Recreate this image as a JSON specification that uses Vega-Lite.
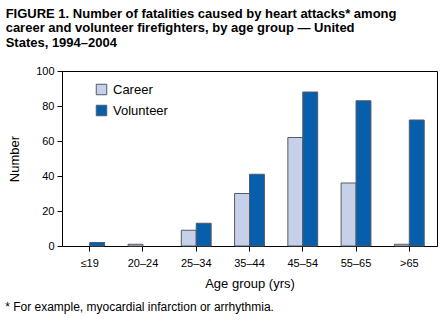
{
  "$schema": "https://vega.github.io/schema/vega-lite/v6.json",
  "padding": {"left": 5, "top": 7, "right": 8, "bottom": 5},
  "background": "white",
  "title": {
    "text": "* For example, myocardial infarction or arrhythmia.",
    "orient": "bottom",
    "anchor": "start",
    "font": "Liberation Sans",
    "fontSize": 12,
    "fontWeight": "normal",
    "color": "black",
    "offset": 11
  },
  "config": {
    "font": "Liberation Sans",
    "view": {"stroke": "black", "strokeWidth": 1},
    "concat": {"spacing": 0}
  },
  "vconcat": [
    {
      "width": 375,
      "height": 175,
      "title": {
        "text": [
          "FIGURE 1. Number of fatalities caused by heart attacks* among",
          "career and volunteer firefighters, by age group — United",
          "States, 1994–2004"
        ],
        "anchor": "start",
        "font": "Liberation Sans",
        "fontSize": 13,
        "fontWeight": "bold",
        "color": "black",
        "lineHeight": 14.7,
        "offset": 15,
        "dx": -3
      },
      "data": {
        "values": [
          {"age": "≤19", "type": "Career", "n": 0},
          {"age": "≤19", "type": "Volunteer", "n": 2},
          {"age": "20–24", "type": "Career", "n": 1},
          {"age": "20–24", "type": "Volunteer", "n": 0},
          {"age": "25–34", "type": "Career", "n": 9},
          {"age": "25–34", "type": "Volunteer", "n": 13},
          {"age": "35–44", "type": "Career", "n": 30},
          {"age": "35–44", "type": "Volunteer", "n": 41},
          {"age": "45–54", "type": "Career", "n": 62},
          {"age": "45–54", "type": "Volunteer", "n": 88},
          {"age": "55–65", "type": "Career", "n": 36},
          {"age": "55–65", "type": "Volunteer", "n": 83},
          {"age": ">65", "type": "Career", "n": 1},
          {"age": ">65", "type": "Volunteer", "n": 72}
        ]
      },
      "transform": [{"filter": "datum.n > 0"}],
      "mark": {"type": "bar", "stroke": "#555a66", "strokeWidth": 1},
      "encoding": {
        "x": {
          "field": "age",
          "type": "nominal",
          "sort": ["≤19", "20–24", "25–34", "35–44", "45–54", "55–65", ">65"],
          "scale": {"domain": ["≤19", "20–24", "25–34", "35–44", "45–54", "55–65", ">65"], "paddingInner": 0.44, "paddingOuter": 0.24},
          "axis": {
            "title": "Age group (yrs)",
            "titleFontSize": 13,
            "titleFontWeight": "normal",
            "titleColor": "black",
            "titlePadding": 9,
            "labelAngle": 0,
            "labelFontSize": 11,
            "labelColor": "black",
            "labelPadding": 6,
            "tickSize": 5,
            "tickColor": "black",
            "domainColor": "black"
          }
        },
        "xOffset": {"field": "type", "type": "nominal", "scale": {"domain": ["Career", "Volunteer"]}},
        "y": {
          "field": "n",
          "type": "quantitative",
          "scale": {"domain": [0, 100]},
          "axis": {
            "title": "Number",
            "titleFontSize": 13,
            "titleFontWeight": "normal",
            "titleColor": "black",
            "titlePadding": 14,
            "values": [0, 20, 40, 60, 80, 100],
            "grid": false,
            "labelFontSize": 11,
            "labelColor": "black",
            "labelPadding": 3,
            "tickSize": 5,
            "tickColor": "black",
            "domainColor": "black"
          }
        },
        "color": {
          "field": "type",
          "type": "nominal",
          "scale": {"domain": ["Career", "Volunteer"], "range": ["#c6d0e8", "#075fab"]},
          "legend": {
            "title": null,
            "orient": "none",
            "legendX": 33,
            "legendY": 12,
            "symbolType": "square",
            "symbolSize": 110,
            "symbolStrokeColor": "#555a66",
            "symbolStrokeWidth": 1,
            "labelFontSize": 13,
            "labelColor": "black",
            "rowPadding": 6,
            "labelOffset": 5
          }
        }
      }
    }
  ]
}
